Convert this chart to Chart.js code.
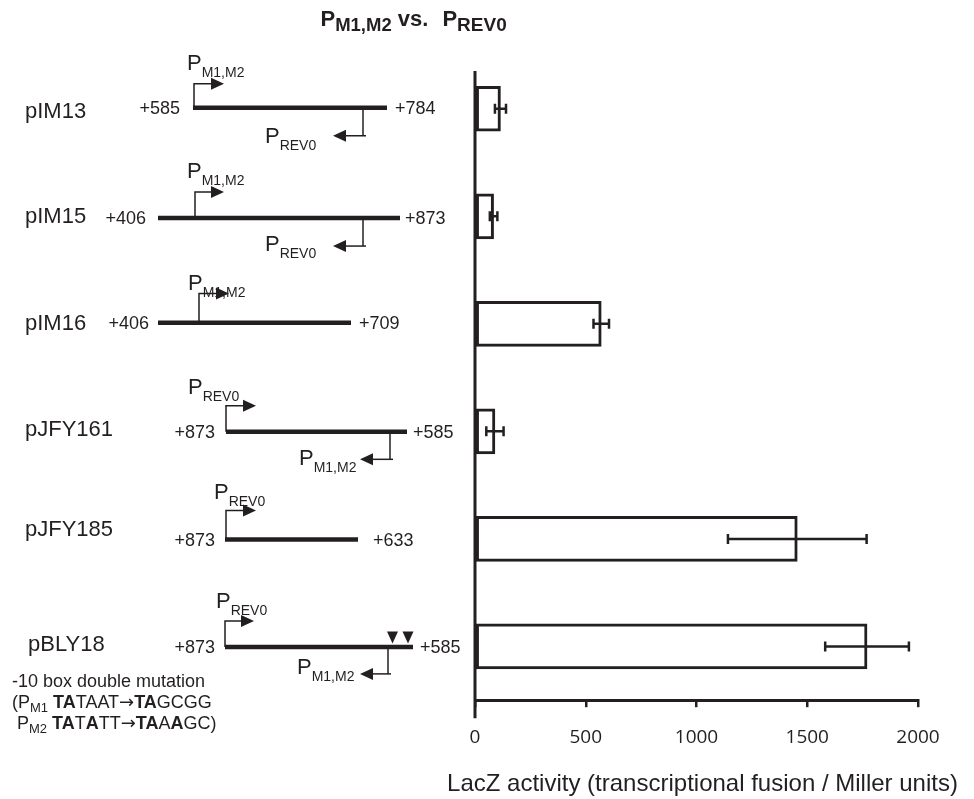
<!DOCTYPE html>
<html><head><meta charset="utf-8">
<script src="https://cdn.jsdelivr.net/npm/chart.js@4.4.1/dist/chart.umd.min.js"></script>
<style>html,body{margin:0;padding:0;background:#fff;}canvas{display:block;}</style>
</head><body>
<canvas id="c" width="974" height="799"></canvas>
<script>
// ---- data ----
const categories = ['pIM13', 'pIM15', 'pIM16', 'pJFY161', 'pJFY185', 'pBLY18'];
const activity   = [115, 84, 570, 90, 1455, 1770];
const errorSD    = [25, 17, 35, 39, 313, 189];
const xTickValues = [0, 500, 1000, 1500, 2000];
const xTickLabels = ['0', '500', '1000', '1500', '2000'];
const leftEnds   = ['+585', '+406', '+406', '+873', '+873', '+873'];
const rightEnds  = ['+784', '+873', '+709', '+585', '+633', '+585'];
const fwdPromoter = ['M1,M2', 'M1,M2', 'M1,M2', 'REV0', 'REV0', 'REV0'];
const revPromoter = ['REV0', 'REV0', null, 'M1,M2', null, 'M1,M2'];
const axisTitle = 'LacZ activity (transcriptional fusion / Miller units)';

// ---- diagram layout (decoration only) ----
const diagramLayout = [
  {nameX:25, nameDy:9.6, lineDy:-1, x1:193, x2:387, lX:180, rX:395,
   fwd:{x:194,h:24,tip:224,lx:187,ly:-37.7}, rev:{x:363,h:28,tip:333,lx:265,ly:35}},
  {nameX:25, nameDy:7, lineDy:1.75, x1:158, x2:400, lX:146, rX:405,
   fwd:{x:195,h:26,tip:224,lx:187,ly:-40}, rev:{x:363,h:28,tip:333,lx:265,ly:33}},
  {nameX:25, nameDy:6.3, lineDy:-1, x1:158, x2:351, lX:149, rX:359,
   fwd:{x:199,h:29.4,tip:229,lx:188,ly:-32.7}},
  {nameX:25, nameDy:5, lineDy:0.45, x1:226, x2:407, lX:215, rX:413,
   fwd:{x:226,h:26,tip:256,lx:188,ly:-37.7}, rev:{x:390,h:27.5,tip:360,lx:299,ly:33.3}},
  {nameX:25, nameDy:-3.3, lineDy:0.55, x1:225, x2:358, lX:215, rX:373,
   fwd:{x:226,h:29,tip:256,lx:214,ly:-40}},
  {nameX:28, nameDy:5, lineDy:0.45, x1:225, x2:413, lX:215, rX:420,
   fwd:{x:225,h:26,tip:254,lx:216,ly:-39}, rev:{x:388,h:27,tip:360,lx:297,ly:27}, marks:[392.5,408]}
];

const INK = '#231f20';
const SANS = "'Liberation Sans', Arial, Helvetica, sans-serif";
const f = (size, bold) => (bold ? 'bold ' : '') + size + 'px ' + SANS;
const ARROWF = "18px 'DejaVu Sans', sans-serif";

function drawRuns(ctx, x, y, parts, align) {
  let w = 0;
  parts.forEach(p => { if (p.gap) { w += p.gap; return; } ctx.font = p.f; w += ctx.measureText(p.t).width; });
  let cx = align === 'center' ? x - w / 2 : x;
  ctx.textAlign = 'left';
  ctx.textBaseline = 'alphabetic';
  parts.forEach(p => {
    if (p.gap) { cx += p.gap; return; }
    ctx.font = p.f;
    ctx.fillText(p.t, cx, y + (p.dy || 0));
    cx += ctx.measureText(p.t).width;
  });
}

function fwdArrow(ctx, x, yl, h, tip) {
  const top = yl - h;
  ctx.lineWidth = 1.5;
  ctx.beginPath(); ctx.moveTo(x, yl); ctx.lineTo(x, top); ctx.lineTo(tip - 12, top); ctx.stroke();
  ctx.beginPath(); ctx.moveTo(tip, top); ctx.lineTo(tip - 13, top - 6); ctx.lineTo(tip - 13, top + 6); ctx.closePath(); ctx.fill();
}
function revArrow(ctx, x, yl, h, tip) {
  const bot = yl + h;
  ctx.lineWidth = 1.5;
  ctx.beginPath(); ctx.moveTo(x, yl); ctx.lineTo(x, bot); ctx.stroke();
  ctx.beginPath(); ctx.moveTo(x + 3, bot); ctx.lineTo(tip + 12, bot); ctx.stroke();
  ctx.beginPath(); ctx.moveTo(tip, bot); ctx.lineTo(tip + 13, bot - 6); ctx.lineTo(tip + 13, bot + 6); ctx.closePath(); ctx.fill();
}

const decorPlugin = {
  id: 'decor',
  afterDatasetsDraw(chart) {
    const ctx = chart.ctx, xs = chart.scales.x;
    const meta = chart.getDatasetMeta(0);
    ctx.save();
    ctx.strokeStyle = INK; ctx.lineWidth = 2.5;
    meta.data.forEach((bar, i) => {
      const y = bar.y;
      const lo = xs.getPixelForValue(activity[i] - errorSD[i]);
      const hi = xs.getPixelForValue(activity[i] + errorSD[i]);
      ctx.beginPath();
      ctx.moveTo(lo, y); ctx.lineTo(hi, y);
      ctx.moveTo(lo, y - 5); ctx.lineTo(lo, y + 5);
      ctx.moveTo(hi, y - 5); ctx.lineTo(hi, y + 5);
      ctx.stroke();
    });
    ctx.restore();
  },
  afterDraw(chart) {
    const ctx = chart.ctx, xs = chart.scales.x, ys = chart.scales.y, ca = chart.chartArea;
    ctx.save();
    ctx.strokeStyle = INK; ctx.fillStyle = INK;
    // vertical value axis line
    const x0 = xs.getPixelForValue(0);
    ctx.lineWidth = 3;
    ctx.beginPath(); ctx.moveTo(x0, ca.top + 16); ctx.lineTo(x0, ca.bottom + 18); ctx.stroke();

    // x axis title
    ctx.font = f(24); ctx.textAlign = 'center'; ctx.textBaseline = 'alphabetic';
    ctx.fillText(axisTitle, 702.5, 791);

    // chart title
    drawRuns(ctx, 320.5, 25.5, [
      {t:'P', f:f(22,true)}, {t:'M1,M2', f:f(18.5,true), dy:5},
      {t:' vs.', f:f(22,true)}, {gap:14},
      {t:'P', f:f(22,true)}, {t:'REV0', f:f(19,true), dy:5}
    ], 'left');

    // construct diagrams
    categories.forEach((name, i) => {
      const L = diagramLayout[i];
      const c = ys.getPixelForValue(i);
      const yl = c + L.lineDy;
      ctx.fillStyle = INK; ctx.strokeStyle = INK;
      ctx.font = f(22); ctx.textAlign = 'left'; ctx.textBaseline = 'alphabetic';
      ctx.fillText(name, L.nameX, c + L.nameDy);
      // thick DNA line
      ctx.lineWidth = 4.5; ctx.lineCap = 'butt';
      ctx.beginPath(); ctx.moveTo(L.x1, yl); ctx.lineTo(L.x2, yl); ctx.stroke();
      // end labels
      ctx.font = f(18);
      ctx.textAlign = 'right'; ctx.fillText(leftEnds[i], L.lX, yl + 6.4);
      ctx.textAlign = 'left'; ctx.fillText(rightEnds[i], L.rX, yl + 6.4);
      // forward promoter
      fwdArrow(ctx, L.fwd.x, yl, L.fwd.h, L.fwd.tip);
      drawRuns(ctx, L.fwd.lx, yl + L.fwd.ly, [{t:'P', f:f(22)}, {t:fwdPromoter[i], f:f(14), dy:7}], 'left');
      // reverse promoter
      if (L.rev && revPromoter[i]) {
        revArrow(ctx, L.rev.x, yl, L.rev.h, L.rev.tip);
        drawRuns(ctx, L.rev.lx, yl + L.rev.ly, [{t:'P', f:f(22)}, {t:revPromoter[i], f:f(14), dy:7}], 'left');
      }
      // mutation marks
      if (L.marks) {
        L.marks.forEach(mx => {
          ctx.beginPath();
          ctx.moveTo(mx - 5.5, yl - 15.5); ctx.lineTo(mx + 5.5, yl - 15.5); ctx.lineTo(mx, yl - 3.5);
          ctx.closePath(); ctx.fill();
        });
      }
    });

    // mutation description
    const r = f(18), b = f(18, true), s = f(13);
    drawRuns(ctx, 12, 687, [{t:'-10 box double mutation', f:r}], 'left');
    drawRuns(ctx, 12, 708, [
      {t:'(P', f:r}, {t:'M1', f:s, dy:4}, {t:' ', f:r}, {t:'TA', f:b}, {t:'TAAT', f:r}, {t:'\u2192', f:ARROWF},
      {t:'TA', f:b}, {t:'GCGG', f:r}], 'left');
    drawRuns(ctx, 17, 729, [
      {t:'P', f:r}, {t:'M2', f:s, dy:4}, {t:' ', f:r}, {t:'TA', f:b}, {t:'T', f:r}, {t:'A', f:b},
      {t:'TT', f:r}, {t:'\u2192', f:ARROWF}, {t:'TA', f:b}, {t:'A', f:r}, {t:'A', f:b}, {t:'GC)', f:r}], 'left');
    ctx.restore();
  }
};

new Chart(document.getElementById('c'), {
  type: 'bar',
  data: {
    labels: categories,
    datasets: [{
      data: activity,
      backgroundColor: '#ffffff',
      borderColor: INK,
      borderWidth: 3,
      borderSkipped: false,
      barThickness: 45
    }]
  },
  options: {
    indexAxis: 'y',
    responsive: false,
    animation: false,
    devicePixelRatio: 1,
    layout: { padding: { left: 475, right: 56, top: 55, bottom: 31 } },
    plugins: { legend: { display: false }, tooltip: { enabled: false } },
    scales: {
      y: { display: false },
      x: {
        min: 0, max: 2000,
        afterBuildTicks: s => { s.ticks = xTickValues.map(v => ({ value: v })); },
        ticks: { color: INK, padding: 19, font: { family: "'Open Sans', sans-serif", size: 19 },
                 callback: (v, i) => xTickLabels[i] },
        grid: { drawOnChartArea: false, drawTicks: true, tickLength: 7, color: INK, lineWidth: 2.5 },
        border: { display: true, color: INK, width: 3 },
        title: { display: false }
      }
    }
  },
  plugins: [decorPlugin]
});
</script>
</body></html>
